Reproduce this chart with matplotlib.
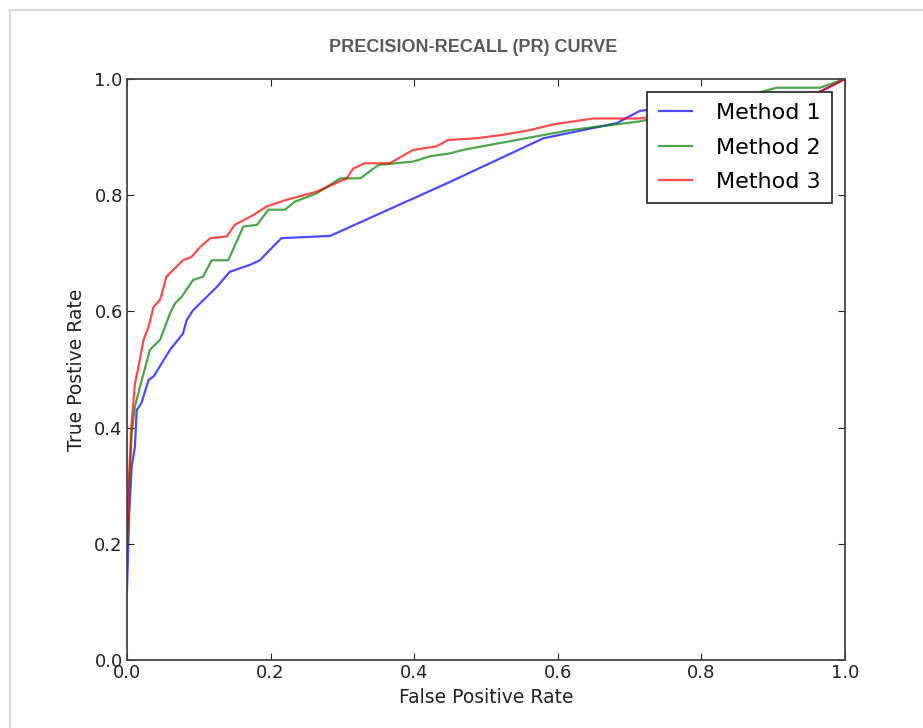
import matplotlib
matplotlib.use("Agg")
import matplotlib.pyplot as plt
from matplotlib.lines import Line2D

# values
m1_fpr = [0, 0.003, 0.0065, 0.011, 0.0135, 0.02, 0.030, 0.037, 0.06, 0.078, 0.083, 0.092,
          0.125, 0.143, 0.171, 0.185, 0.199, 0.215, 0.283, 0.45, 0.58, 0.682, 0.714,
          0.80, 0.90, 0.96, 1.0]
m1_tpr = [0.12, 0.25, 0.333, 0.367, 0.43, 0.442, 0.482, 0.488, 0.534, 0.562, 0.585, 0.602,
          0.642, 0.668, 0.680, 0.688, 0.706, 0.726, 0.730, 0.823, 0.898, 0.924, 0.945,
          0.96, 0.97, 0.975, 1.0]

m2_fpr = [0, 0.003, 0.0065, 0.011, 0.018, 0.032, 0.046, 0.06, 0.067, 0.076, 0.092, 0.106,
          0.118, 0.141, 0.162, 0.181, 0.197, 0.22, 0.234, 0.264, 0.297, 0.325, 0.35,
          0.399, 0.422, 0.45, 0.468, 0.617, 0.714, 0.80, 0.905, 0.965, 1.0]
m2_tpr = [0.18, 0.30, 0.39, 0.436, 0.47, 0.534, 0.551, 0.597, 0.614, 0.625, 0.654, 0.660,
          0.688, 0.688, 0.746, 0.749, 0.775, 0.775, 0.789, 0.803, 0.829, 0.829, 0.852,
          0.858, 0.867, 0.872, 0.878, 0.912, 0.927, 0.95, 0.985, 0.985, 1.0]

m3_fpr = [0, 0.003, 0.006, 0.011, 0.016, 0.023, 0.03, 0.037, 0.046, 0.055, 0.064, 0.078,
          0.09, 0.102, 0.116, 0.139, 0.150, 0.167, 0.176, 0.195, 0.222, 0.264, 0.306,
          0.315, 0.331, 0.366, 0.39, 0.399, 0.431, 0.447, 0.487, 0.524, 0.561, 0.594,
          0.649, 0.714, 0.80, 0.90, 0.965, 1.0]
m3_tpr = [0.2, 0.32, 0.402, 0.476, 0.505, 0.551, 0.574, 0.608, 0.620, 0.660, 0.671, 0.688,
          0.694, 0.711, 0.726, 0.729, 0.749, 0.760, 0.766, 0.781, 0.792, 0.806, 0.829,
          0.846, 0.855, 0.855, 0.872, 0.878, 0.884, 0.895, 0.898, 0.904, 0.912, 0.922,
          0.932, 0.932, 0.95, 0.97, 0.978, 1.0]

labels = ["Method 1", "Method 2", "Method 3"]
ticks = [0.0, 0.2, 0.4, 0.6, 0.8, 1.0]

fig = plt.figure(figsize=(9.23, 7.28), dpi=100)

# light grey screenshot frame (left and top edges)
fig.add_artist(Line2D([10 / 923, 10 / 923], [0, 1 - 10 / 728], transform=fig.transFigure,
                      color="#d9d9d9", lw=1.6))
fig.add_artist(Line2D([10 / 923, 1], [1 - 10 / 728, 1 - 10 / 728], transform=fig.transFigure,
                      color="#d9d9d9", lw=1.6))

ax = fig.add_axes([127 / 923, 68 / 728, 718 / 923, 581 / 728])

ax.plot(m1_fpr, m1_tpr, color="b", lw=1.6, alpha=0.7, label=labels[0])
ax.plot(m2_fpr, m2_tpr, color="g", lw=1.6, alpha=0.7, label=labels[1])
ax.plot(m3_fpr, m3_tpr, color="r", lw=1.6, alpha=0.7, label=labels[2])

ax.set_xlim(0, 1)
ax.set_ylim(0, 1)
ax.set_xticks(ticks)
ax.set_yticks(ticks)
ax.tick_params(direction="in", top=True, right=True, length=5, width=0.8,
               labelsize=13, pad=3, colors="#222222")
for s in ax.spines.values():
    s.set_color("#444444")
    s.set_linewidth(1.3)

ax.set_xlabel("False Positive Rate", fontsize=13.5, color="#222222", labelpad=4)
ax.set_ylabel("True Postive Rate", fontsize=13.5, color="#222222", labelpad=6)

leg = ax.legend(loc="upper right", bbox_to_anchor=(0.982, 0.978), borderaxespad=0,
                fontsize=16, fancybox=False, framealpha=1, edgecolor="#222222",
                handlelength=1.5, handletextpad=1.1, borderpad=0.5, labelspacing=0.66)
leg.get_frame().set_linewidth(1.2)

fig.text(473 / 923, 1 - 47 / 728, "PRECISION-RECALL (PR) CURVE",
         family=["Liberation Sans Narrow", "Liberation Sans"], weight="bold",
         fontsize=13, color="#5a5a5a", ha="center", va="center")

fig.savefig("out.png", dpi=100, facecolor="white")
